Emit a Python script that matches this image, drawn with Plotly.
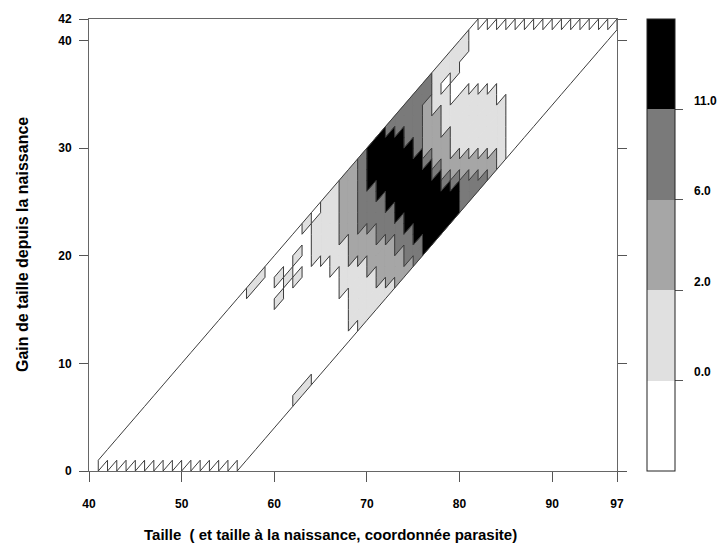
import plotly.graph_objects as go

# ---------------- data ----------------
# grid columns: taille (left edge of each 1-unit column), rows: taille à la naissance (1-unit bands)
taille = list(range(41, 97))
naissance = list(range(40, 56))
gain_max = 42
x_ticks = [40, 50, 60, 70, 80, 90, 97]
y_ticks = [0, 10, 20, 30, 40, 42]
seuils_lbl = ["0.0", "2.0", "6.0", "11.0"]
couleurs = ["#ffffff", "#e0e0e0", "#a6a6a6", "#7a7a7a", "#000000"]

# class of each cell, one string per taille column, one char per naissance row (40..55)
# '.' : < 0   '1' : 0-2   '2' : 2-6   '3' : 6-11   '4' : > 11
colonnes = {
    57: "1...............",
    58: "1...............",
    60: "..1.1...........",
    61: "...1............",
    62: "..1.1..........1",
    63: "1..............1",
    64: ".1111...........",
    65: "111111..........",
    66: "11111111........",
    67: "22222211111.....",
    68: "222222222111111.",
    69: "3333333222111111",
    70: "4444333322221111",
    71: "4444443333222211",
    72: "3444444433322221",
    73: "3344444444333222",
    74: "3333444444443332",
    75: "3333334444444433",
    76: "3322222344444444",
    77: "1111222223444444",
    78: "11.1111222234444",
    79: "111..11111223444",
    80: "11...11111122333",
    81: "......1111112233",
    82: ".......111111223",
    83: "........11111122",
    84: "..........111111",
}

FONT = "Liberation Sans, Arial, sans-serif"


def niveau(i, j):
    s = colonnes.get(i)
    if s is None:
        return 0
    c = s[j - naissance[0]]
    return 0 if c == "." else int(c)


def classe(i, j):
    g = i - j
    if g <= 0 or g >= gain_max:
        return -1  # cell cut by the frame
    return niveau(i, j)


def cell_poly(i, j):
    # cell: taille in [i, i+1], naissance in [j, j+1]  ->  gain = taille - naissance
    return [i, i + 1, i + 1, i, i], [i - j - 1, i - j, i - j + 1, i - j, i - j - 1]


fig = go.Figure()

# filled cells
for lev in range(1, 5):
    xs, ys = [], []
    for i in taille:
        for j in naissance:
            if classe(i, j) == lev:
                px, py = cell_poly(i, j)
                xs += px + [None]
                ys += py + [None]
    if xs:
        fig.add_trace(go.Scatter(x=xs, y=ys, mode="lines", fill="toself",
                                 fillcolor=couleurs[lev],
                                 line=dict(color=couleurs[lev], width=0.6),
                                 hoverinfo="skip", showlegend=False))

# boundaries between classes and domain outline
ex, ey = [], []
i_last, j_first, j_last = taille[-1], naissance[0], naissance[-1]
for i in taille:
    for j in naissance:
        c = classe(i, j)
        # right edge
        if i < i_last:
            if classe(i + 1, j) != c:
                ex += [i + 1, i + 1, None]
                ey += [i - j, i - j + 1, None]
        else:
            ex += [i + 1, i + 1, None]
            ey += [i - j, i - j + 1, None]
        # top edge (shared with row j-1)
        if j > j_first:
            if classe(i, j - 1) != c:
                ex += [i, i + 1, None]
                ey += [i - j, i + 1 - j, None]
        else:
            ex += [i, i + 1, None]
            ey += [i - j, i + 1 - j, None]
        if j == j_last:
            ex += [i, i + 1, None]
            ey += [i - j - 1, i - j, None]
        if i == taille[0]:
            ex += [i, i, None]
            ey += [i - j - 1, i - j, None]

fig.add_trace(go.Scatter(x=ex, y=ey, mode="lines",
                         line=dict(color="#3c3c3c", width=1),
                         hoverinfo="skip", showlegend=False))

# colour bar
n = len(couleurs)
cs = []
for k, col in enumerate(couleurs):
    cs.append([k / n, col])
    cs.append([(k + 1) / n, col])
pad = "\u00a0" * 5
fig.add_trace(go.Scatter(
    x=[None], y=[None], mode="markers", hoverinfo="skip", showlegend=False,
    marker=dict(color=[0], cmin=0, cmax=n, colorscale=cs, showscale=True,
                colorbar=dict(thickness=28, thicknessmode="pixels",
                              len=1, lenmode="fraction", y=1, yanchor="top",
                              x=(647 - 89) / 528, xanchor="left", xpad=0, ypad=0,
                              outlinewidth=1, outlinecolor="#222222",
                              tickmode="array",
                              tickvals=list(range(1, n)),
                              ticktext=[pad + t for t in seuils_lbl],
                              ticks="outside", ticklen=8, tickcolor="#555555",
                              ticklabelposition="outside top",
                              tickfont=dict(family=FONT, size=12, color="black",
                                            weight="bold")))))

axis_common = dict(showgrid=False, zeroline=False, showline=True,
                   linecolor="#666666", linewidth=1, ticks="outside",
                   tickcolor="#555555", tickwidth=1,
                   tickfont=dict(family=FONT, size=12, color="black", weight="bold"))

fig.update_xaxes(range=[40, 97], tickmode="array", tickvals=x_ticks,
                 ticktext=[str(v) for v in x_ticks], ticklen=10, mirror=True,
                 ticklabelstandoff=12, **axis_common)
fig.update_yaxes(range=[0, 42], tickmode="array", tickvals=y_ticks,
                 ticktext=[str(v) for v in y_ticks], ticklen=9, mirror="ticks",
                 ticklabelstandoff=5, **axis_common)

fig.update_layout(
    width=720, height=545,
    margin=dict(l=89, r=103, t=19, b=74, autoexpand=False),
    paper_bgcolor="white", plot_bgcolor="white",
    showlegend=False, hovermode=False,
    annotations=[
        dict(text="Taille \u00a0( et taille à la naissance, coordonnée parasite)",
             xref="paper", yref="paper", x=(330 - 89) / 528, y=(471 - 534) / 452,
             xanchor="center", yanchor="middle", showarrow=False,
             font=dict(family=FONT, size=15, color="black", weight="bold")),
        dict(text="Gain de taille depuis la naissance",
             xref="paper", yref="paper", x=(22 - 89) / 528, y=0.5,
             xanchor="center", yanchor="middle", showarrow=False, textangle=-90,
             font=dict(family=FONT, size=16, color="black", weight="bold")),
    ],
)

fig.write_html("out.html")
